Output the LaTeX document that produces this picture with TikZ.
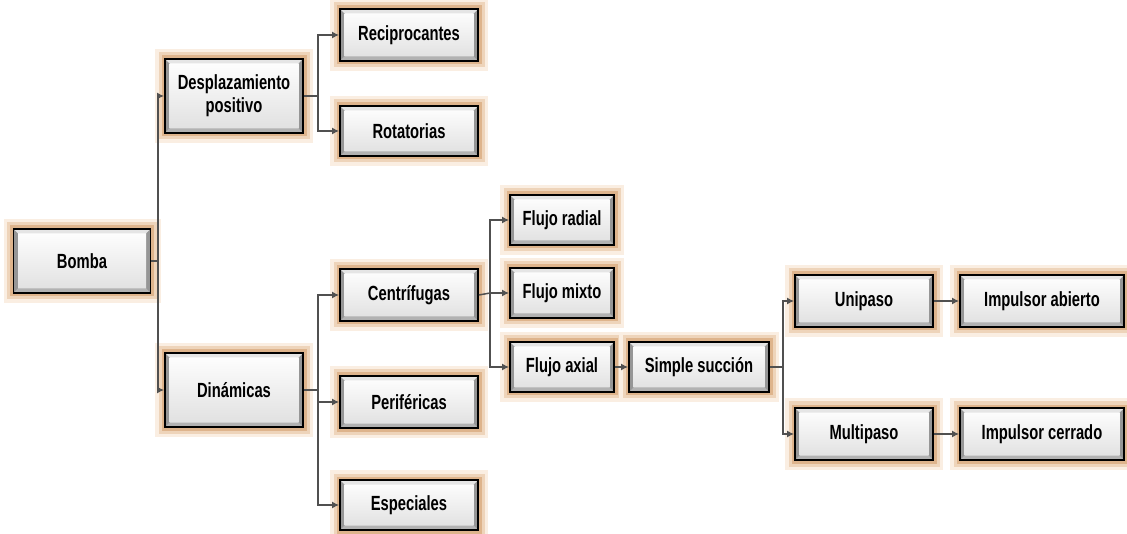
\documentclass[tikz,border=0pt]{standalone}
\usepackage{fontspec}
\setmainfont{Liberation Sans}[FakeStretch=0.72]
\usetikzlibrary{arrows.meta}
\definecolor{glowA}{RGB}{222,180,140}
\definecolor{glowB}{RGB}{238,212,186}
\definecolor{glowC}{RGB}{250,238,226}
\definecolor{rim}{RGB}{150,150,150}
\definecolor{conncol}{RGB}{80,80,80}
\tikzset{
  box/.style={draw=black, line width=1.8pt, fill=rim, inner sep=0pt, align=center,
    font=\bfseries\fontsize{20.5}{23}\selectfont,
    preaction={draw=glowC, line width=20pt, rounded corners=9pt},
    preaction={draw=glowB, line width=13pt, rounded corners=6pt},
    preaction={draw=glowA, line width=7pt, rounded corners=3pt},
    path picture={
      \shade[top color=white, bottom color=gray!25]
        ([shift={(4.5pt,-4.5pt)}]path picture bounding box.north west) rectangle
        ([shift={(-4.5pt,4.5pt)}]path picture bounding box.south east);
      \fill[gray!20] (path picture bounding box.north west) -- (path picture bounding box.north east)
        -- ([shift={(-4.5pt,-4.5pt)}]path picture bounding box.north east)
        -- ([shift={(4.5pt,-4.5pt)}]path picture bounding box.north west) -- cycle;
      \fill[gray!60] (path picture bounding box.south west) -- (path picture bounding box.south east)
        -- ([shift={(-4.5pt,4.5pt)}]path picture bounding box.south east)
        -- ([shift={(4.5pt,4.5pt)}]path picture bounding box.south west) -- cycle;
    }},
  conn/.style={draw=conncol, line width=1.5pt},
  arr/.style={conn, -{Latex[length=7pt,width=7pt]}},
}
\begin{document}
\begin{tikzpicture}[x=1pt, y=-1pt]
\useasboundingbox (0,0) rectangle (1127,534);
% nodes
\node[box, minimum width=137pt, minimum height=64pt] (bomba) at (82,261) {Bomba};
\node[box, minimum width=138pt, minimum height=74pt] (desp) at (234,96) {Desplazamiento\\positivo};
\node[box, minimum width=138pt, minimum height=52pt] (reci) at (409,35) {Reciprocantes};
\node[box, minimum width=138pt, minimum height=50pt] (rota) at (409,131) {Rotatorias};
\node[box, minimum width=138pt, minimum height=74pt] (din) at (234,390) {Dinámicas};
\node[box, minimum width=138pt, minimum height=52pt] (cent) at (409,295) {Centrífugas};
\node[box, minimum width=138pt, minimum height=52pt] (peri) at (409,402) {Periféricas};
\node[box, minimum width=138pt, minimum height=50pt] (espe) at (409,505) {Especiales};
\node[box, minimum width=104pt, minimum height=50pt] (radial) at (562,220) {Flujo radial};
\node[box, minimum width=104pt, minimum height=50pt] (mixto) at (562,293) {Flujo mixto};
\node[box, minimum width=104pt, minimum height=50pt] (axial) at (562,367) {Flujo axial};
\node[box, minimum width=140pt, minimum height=50pt] (simple) at (699,367) {Simple succión};
\node[box, minimum width=138pt, minimum height=52pt] (uni) at (864,301) {Unipaso};
\node[box, minimum width=164pt, minimum height=52pt] (abierto) at (1042,301) {Impulsor abierto};
\node[box, minimum width=138pt, minimum height=52pt] (multi) at (864,434) {Multipaso};
\node[box, minimum width=164pt, minimum height=52pt] (cerrado) at (1042,434) {Impulsor cerrado};
% junctions
\coordinate (j1) at (158,261);
\coordinate (j2) at (318,96);
\coordinate (j3) at (318,390);
\coordinate (j4) at (490,293);
\coordinate (j5) at (783,367);
% connectors
\draw[conn] (bomba.east) -- (j1);
\draw[arr] (j1) |- (desp.west);
\draw[arr] (j1) |- (din.west);
\draw[conn] (desp.east) -- (j2);
\draw[arr] (j2) |- (reci.west);
\draw[arr] (j2) |- (rota.west);
\draw[conn] (din.east) -- (j3);
\draw[arr] (j3) |- (cent.west);
\draw[arr] (j3) |- (peri.west);
\draw[arr] (j3) |- (espe.west);
\draw[conn] (cent.east) -- (j4);
\draw[arr] (j4) |- (radial.west);
\draw[arr] (j4) |- (mixto.west);
\draw[arr] (j4) |- (axial.west);
\draw[arr] (axial.east) -- (simple.west);
\draw[conn] (simple.east) -- (j5);
\draw[arr] (j5) |- (uni.west);
\draw[arr] (j5) |- (multi.west);
\draw[arr] (uni.east) -- (abierto.west);
\draw[arr] (multi.east) -- (cerrado.west);
\end{tikzpicture}
\end{document}
